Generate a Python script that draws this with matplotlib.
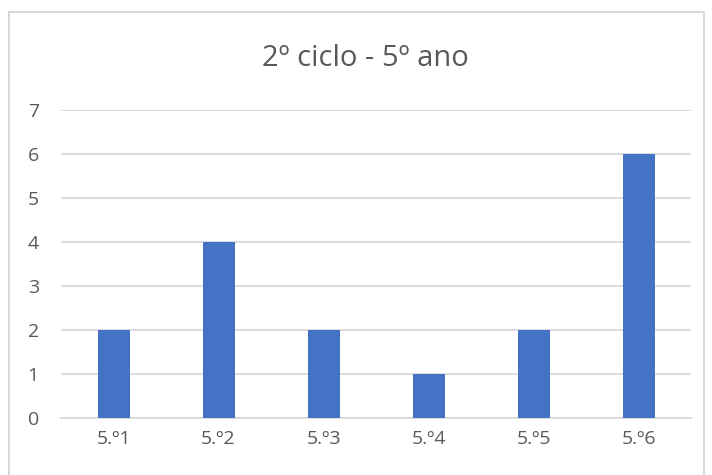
import matplotlib.pyplot as plt
from matplotlib.patches import Rectangle

turmas = ["5.º1", "5.º2", "5.º3", "5.º4", "5.º5", "5.º6"]
valores = [2, 4, 2, 1, 2, 6]
yticks = [0, 1, 2, 3, 4, 5, 6, 7]

plt.rcParams['font.family'] = ['Open Sans', 'DejaVu Sans']

fig = plt.figure(figsize=(7.12, 4.75), dpi=100)
ax = fig.add_axes([0.0857, 0.12, 0.885, 0.6484])

x = range(len(turmas))
ax.bar(x, valores, width=0.305, color="#4472C4", zorder=3)

ax.set_xlim(-0.5, len(turmas) - 0.5)
ax.set_ylim(0, 7)
ax.set_yticks(yticks)
ax.set_xticks(list(x))
ax.set_xticklabels(turmas)
ax.grid(axis="y", color="#D9D9D9", linewidth=1.3, zorder=0)
for s in ["top", "right", "left"]:
    ax.spines[s].set_visible(False)
ax.spines["bottom"].set_color("#D9D9D9")
ax.spines["bottom"].set_linewidth(1.3)
ax.tick_params(length=0, labelsize=14, colors="#595959", pad=9)
ax.tick_params(axis="y", pad=16)

fig.text(0.513, 0.877, "2º ciclo - 5º ano", ha="center", va="center",
         fontsize=21, color="#595959")

# chart frame
fig.patches.append(Rectangle((9 / 712, -0.05), 695 / 712, 1.05 - 12 / 475,
                             transform=fig.transFigure, fill=False,
                             edgecolor="#D9D9D9", linewidth=1.5))

fig.savefig("out.png", dpi=100, facecolor="white")
